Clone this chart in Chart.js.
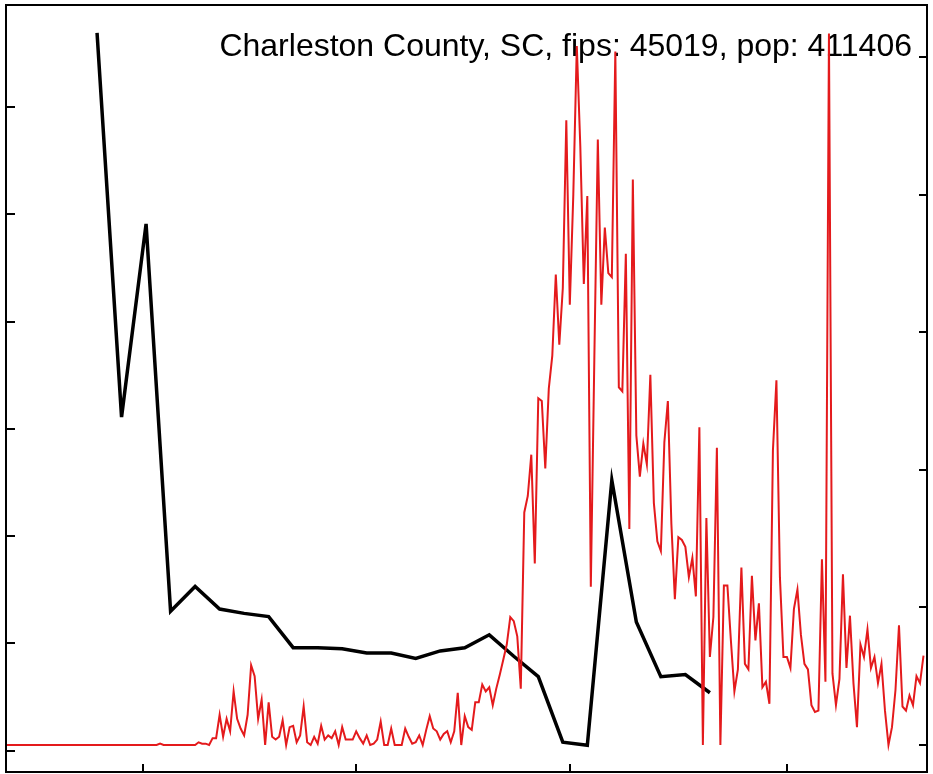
<!DOCTYPE html>
<html>
<head>
<meta charset="utf-8">
<script src="https://cdn.jsdelivr.net/npm/chart.js@4.4.0/dist/chart.umd.min.js"></script>
<style>
  html, body { margin: 0; padding: 0; background: #fff; }
  #wrap { width: 933px; height: 774px; }
</style>
</head>
<body>
<div id="wrap"><canvas id="countyCanvas" width="933" height="774"></canvas></div>
<script>
const chartTitle = 'Charleston County, SC, fips: 45019, pop: 411406';

// daily new cases, one value per day starting 2020-01-22 (day 0)
const dailyCases = [
    0, 0, 0, 0, 0, 0, 0, 0, 0, 0,
    0, 0, 0, 0, 0, 0, 0, 0, 0, 0,
    0, 0, 0, 0, 0, 0, 0, 0, 0, 0,
    0, 0, 0, 0, 0, 0, 0, 0, 0, 0,
    0, 0, 0, 0, 1, 0, 0, 0, 0, 0,
    0, 0, 0, 0, 0, 2, 1, 1, 0, 5,
    5, 22, 6, 19, 10, 39, 19, 12, 7, 22,
    58, 50, 19, 33, 0, 31, 6, 4, 6, 18,
    0, 13, 14, 2, 7, 28, 2, 0, 6, 1,
    14, 4, 7, 5, 10, 0, 13, 4, 4, 4,
    10, 5, 1, 7, 0, 1, 4, 17, 0, 0,
    12, 0, 0, 0, 12, 6, 1, 2, 7, 0,
    11, 21, 12, 10, 4, 8, 10, 2, 10, 38,
    0, 21, 13, 11, 31, 31, 44, 39, 42, 29,
    41, 51, 62, 73, 93, 90, 79, 41, 169, 181,
    211, 132, 252, 250, 201, 259, 283, 342, 291, 332,
    454, 320, 400, 508, 435, 335, 399, 115, 280, 440,
    320, 376, 343, 340, 504, 260, 257, 357, 157, 411,
    225, 195, 219, 204, 269, 176, 148, 141, 220, 250,
    161, 106, 151, 149, 144, 122, 136, 108, 231, 0,
    165, 64, 93, 216, 0, 116, 116, 76, 39, 55,
    129, 59, 55, 123, 76, 103, 42, 46, 30, 214,
    265, 122, 64, 64, 56, 99, 113, 80, 59, 55,
    29, 24, 25, 135, 46, 517, 52, 29, 48, 124,
    56, 94, 45, 13, 73, 64, 84, 56, 64, 45,
    59, 25, 0, 13, 40, 87, 28, 25, 36, 29,
    50, 45, 65
];

// weekly series (left axis)
const weekDays = [26, 33, 40, 47, 54, 61, 68, 75, 82, 89, 96, 103, 110,
                  117, 124, 131, 138, 145, 152, 159, 166, 173, 180, 187, 194, 201];
const weeklyValues = [6.69, 3.11, 4.91, 1.30, 1.53, 1.32, 1.28, 1.25, 0.96, 0.96, 0.95, 0.91, 0.91,
                      0.86, 0.93, 0.96, 1.08, 0.88, 0.69, 0.08, 0.05, 2.52, 1.20, 0.69, 0.71, 0.54];

// tick positions (labels fall outside the picture)
const monthTickDays = [39, 100, 161, 223];
const leftTicks = [0, 1, 2, 3, 4, 5, 6];
const rightTicks = [0, 100, 200, 300, 400, 500];

const titleText = {
    id: 'titleText',
    beforeDatasetsDraw(chart) {
        let ctx = chart.ctx;
        ctx.save();
        ctx.font = '32px "Liberation Sans", Arial, sans-serif';
        ctx.fillStyle = '#000';
        ctx.textAlign = 'right';
        ctx.textBaseline = 'alphabetic';
        ctx.fillText(chartTitle, 912, 56);
        ctx.restore();
    }
};

const frameAndTicks = {
    id: 'frameAndTicks',
    afterDraw(chart) {
        let ctx = chart.ctx;
        let a = chart.chartArea;
        let sx = chart.scales.x, yl = chart.scales.yLeft, yr = chart.scales.yRight;
        ctx.save();
        ctx.strokeStyle = '#000';
        ctx.lineWidth = 2;
        ctx.strokeRect(a.left, a.top, a.right - a.left, a.bottom - a.top);
        ctx.beginPath();
        monthTickDays.forEach(function (d) {
            let px = Math.round(sx.getPixelForValue(d));
            ctx.moveTo(px, a.bottom);
            ctx.lineTo(px, a.bottom - 8);
        });
        leftTicks.forEach(function (v) {
            let py = Math.round(yl.getPixelForValue(v));
            ctx.moveTo(a.left, py);
            ctx.lineTo(a.left + 9, py);
        });
        rightTicks.forEach(function (v) {
            let py = Math.round(yr.getPixelForValue(v));
            ctx.moveTo(a.right, py);
            ctx.lineTo(a.right - 8, py);
        });
        ctx.stroke();
        ctx.restore();
    }
};

let ctx = document.getElementById('countyCanvas').getContext('2d');
let countyChart = new Chart(ctx, {
    type: 'line',
    data: {
        datasets: [{
            label: 'daily cases',
            data: dailyCases.map(function (v, i) { return { x: i, y: v }; }),
            yAxisID: 'yRight',
            borderColor: '#E41A1C',
            borderWidth: 2,
            pointRadius: 0,
            tension: 0,
            fill: false
        }, {
            label: 'weekly',
            data: weekDays.map(function (d, i) { return { x: d, y: weeklyValues[i] }; }),
            yAxisID: 'yLeft',
            borderColor: '#000000',
            borderWidth: 3.5,
            borderJoinStyle: 'miter',
            pointRadius: 0,
            tension: 0,
            fill: false
        }]
    },
    options: {
        responsive: false,
        animation: false,
        devicePixelRatio: 1,
        layout: { padding: { left: 6, top: 5, right: 6, bottom: 2 } },
        plugins: {
            legend: { display: false },
            tooltip: { enabled: false },
            title: { display: false }
        },
        scales: {
            x: { type: 'linear', min: 0, max: 263, display: false },
            yLeft: { type: 'linear', position: 'left', min: -0.1985, max: 6.95, display: false },
            yRight: { type: 'linear', position: 'right', min: -19.6, max: 537.8, display: false }
        }
    },
    plugins: [titleText, frameAndTicks]
});
</script>
</body>
</html>
